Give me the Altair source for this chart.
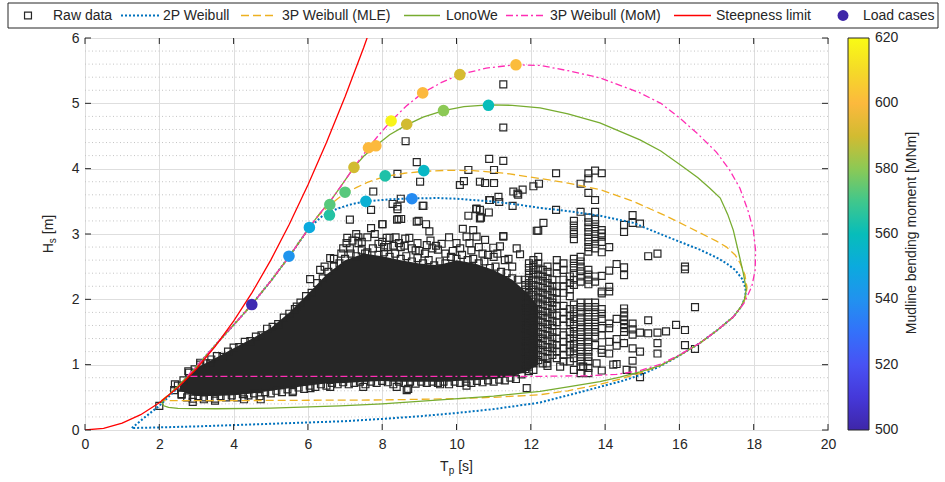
import altair as alt
import pandas as pd

# ---------------- data ----------------
x_ticks = [0, 2, 4, 6, 8, 10, 12, 14, 16, 18, 20]
y_ticks = [0, 1, 2, 3, 4, 5, 6]
y_minor = [round(k * 0.2, 1) for k in range(1, 30) if k % 5]
cbar_ticks = [500, 520, 540, 560, 580, 600, 620]

# dense core of the raw-data cloud
core_tp = [2.55, 2.8, 3.0, 3.5, 4.0, 4.5, 5.0, 5.5, 6.0, 6.5, 7.0, 7.5, 8.0, 8.5, 9.0, 9.5, 10.0, 10.5, 11.0, 11.5, 11.9, 12.2]
core_lo = [0.60, 0.55, 0.52, 0.52, 0.53, 0.56, 0.60, 0.64, 0.68, 0.71, 0.72, 0.74, 0.75, 0.74, 0.74, 0.74, 0.75, 0.76, 0.78, 0.82, 0.90, 1.00]
core_hi = [0.70, 0.86, 0.95, 1.10, 1.25, 1.40, 1.56, 1.80, 2.08, 2.38, 2.60, 2.70, 2.66, 2.60, 2.55, 2.52, 2.60, 2.55, 2.45, 2.30, 2.10, 1.90]

# raw-data squares along the upper and lower rim of the dense core
edge_upper = [(2.50, 0.68), (2.65, 0.76), (2.80, 0.88), (2.95, 0.93), (3.10, 1.00), (3.25, 1.02), (3.40, 1.08),
              (3.55, 1.13), (3.70, 1.12), (3.85, 1.20), (4.00, 1.26), (4.15, 1.27), (4.30, 1.35), (4.45, 1.36),
              (4.60, 1.43), (4.75, 1.45), (4.90, 1.55), (5.05, 1.58), (5.20, 1.62), (5.35, 1.72), (5.50, 1.78),
              (5.65, 1.85), (5.80, 1.95), (5.95, 2.05), (6.10, 2.10), (6.25, 2.25), (6.40, 2.32), (6.55, 2.42),
              (6.70, 2.50), (6.85, 2.55), (7.00, 2.62), (7.15, 2.70), (7.30, 2.66), (7.45, 2.75), (7.60, 2.72),
              (7.75, 2.78), (7.90, 2.68), (8.05, 2.72), (8.20, 2.65), (8.35, 2.70), (8.50, 2.62), (8.65, 2.66),
              (8.80, 2.58), (8.95, 2.63), (9.10, 2.55), (9.25, 2.60), (9.40, 2.52), (9.55, 2.58), (9.70, 2.55),
              (9.85, 2.65), (10.00, 2.62), (10.15, 2.68), (10.30, 2.60), (10.45, 2.62), (10.60, 2.55),
              (10.75, 2.58), (10.90, 2.48), (11.05, 2.50), (11.20, 2.42), (11.35, 2.40), (11.50, 2.32), (11.65, 2.30)]
edge_lower = [(2.60, 0.55), (2.75, 0.50), (2.90, 0.48), (3.05, 0.52), (3.20, 0.47), (3.35, 0.50), (3.50, 0.48),
              (3.65, 0.52), (3.80, 0.50), (3.95, 0.53), (4.10, 0.50), (4.25, 0.55), (4.40, 0.53), (4.55, 0.56),
              (4.70, 0.52), (4.85, 0.58), (5.00, 0.56), (5.15, 0.60), (5.30, 0.58), (5.45, 0.62), (5.60, 0.60),
              (5.75, 0.65), (5.90, 0.63), (6.05, 0.68), (6.20, 0.66), (6.35, 0.70), (6.50, 0.68), (6.65, 0.72),
              (6.80, 0.70), (6.95, 0.73), (7.10, 0.70), (7.25, 0.72), (7.40, 0.74), (7.55, 0.70), (7.70, 0.74),
              (7.85, 0.72), (8.00, 0.75), (8.15, 0.73), (8.30, 0.70), (8.45, 0.74), (8.60, 0.72), (8.75, 0.74),
              (8.90, 0.71), (9.05, 0.74), (9.20, 0.72), (9.35, 0.74), (9.50, 0.72), (9.65, 0.74), (9.80, 0.70),
              (9.95, 0.74), (10.10, 0.72), (10.25, 0.74), (10.40, 0.72), (10.55, 0.75), (10.70, 0.73),
              (10.85, 0.76), (11.00, 0.74), (11.15, 0.77), (11.30, 0.76), (11.45, 0.80), (11.60, 0.78), (11.75, 0.85)]

# individual raw-data squares (outliers around the core)
raw_pts = [
    (2.0, 0.37), (2.42, 0.70), (2.40, 0.61), (2.60, 0.54), (2.78, 0.90), (2.90, 0.43), (3.10, 1.03), (3.37, 1.02),
    (5.70, 1.89), (6.06, 2.31), (6.33, 2.45), (6.60, 2.63), (6.90, 2.70), (7.04, 2.86), (7.06, 2.94), (7.13, 3.22),
    (7.13, 2.78), (7.36, 2.86), (7.36, 2.95), (7.54, 2.70), (7.70, 3.09), (7.70, 3.37), (7.76, 3.65), (8.01, 3.15),
    (8.41, 3.42), (8.44, 3.23), (8.51, 3.23), (9.09, 3.43), (9.02, 3.80), (9.27, 3.04), (8.98, 3.20), (8.41, 3.92),
    (8.12, 2.94), (8.20, 2.94), (8.36, 2.95), (8.62, 2.93), (8.73, 2.94), (8.50, 2.80), (8.95, 2.86), (9.20, 2.83),
    (9.35, 2.78), (7.90, 2.85), (8.05, 2.80), (8.30, 2.82), (8.80, 2.78), (9.00, 2.74), (9.50, 2.76), (9.70, 2.70),
    (9.60, 2.85), (9.90, 2.74), (10.17, 3.08), (10.27, 2.96), (10.45, 3.06), (10.54, 2.96), (10.77, 2.91),
    (10.99, 2.79), (11.26, 2.96), (11.17, 2.81), (11.62, 2.78), (11.71, 2.69), (12.16, 3.05), (10.40, 2.75),
    (10.70, 2.70), (11.00, 2.65), (11.30, 2.60), (11.50, 2.50),
    (7.20, 2.90), (7.30, 3.00), (7.45, 2.88), (7.60, 2.95), (7.80, 3.00), (8.00, 2.88), (8.15, 2.80), (8.45, 2.86),
    (8.60, 2.82), (8.90, 2.75), (9.15, 2.70), (9.30, 2.90), (9.45, 2.82), (9.80, 2.95), (10.00, 2.86),
    (10.10, 2.78), (10.35, 2.86), (10.60, 2.80), (10.85, 2.68), (11.10, 2.70), (11.40, 2.62), (6.95, 2.78),
    (6.70, 2.62), (6.45, 2.50),
    (10.63, 3.37), (10.88, 3.52), (11.15, 3.49), (11.53, 3.65), (11.66, 3.60), (11.78, 3.68), (12.07, 3.73),
    (10.32, 3.28), (10.63, 3.24), (10.53, 3.38), (10.09, 3.75), (10.20, 3.81), (10.63, 3.80), (10.77, 3.78),
    (11.01, 3.78), (10.32, 3.98), (11.01, 3.98), (10.88, 4.15), (11.26, 4.12), (11.26, 5.29), (11.26, 4.63),
    (8.63, 4.42), (8.93, 4.10), (12.22, 3.77), (12.68, 3.93), (13.34, 3.77), (11.13, 3.57), (11.51, 3.43),
    (10.90, 3.52), (8.28, 3.46), (8.50, 3.54), (9.11, 3.43), (10.54, 3.39), (10.66, 3.25), (10.87, 3.33),
    (12.68, 3.37), (8.00, 3.15), (8.40, 3.22), (8.93, 3.19), (9.18, 3.15), (12.34, 3.17), (12.20, 3.05),
    (11.64, 3.62), (8.41, 3.38), (11.26, 2.97),
    (3.20, 0.50), (3.50, 0.45), (4.28, 0.47), (4.73, 0.47), (5.59, 0.58), (6.07, 0.64), (6.60, 0.66), (7.49, 0.66),
    (8.39, 0.66), (8.66, 0.61), (8.70, 0.63), (9.56, 0.70), (10.27, 0.68), (11.89, 0.64),
    (12.43, 1.02), (12.79, 0.97), (13.41, 0.97), (13.77, 1.02), (14.22, 1.00), (14.58, 0.92),
]

# stacks of raw-data squares at discrete Tp values (right part of the cloud)
raw_cols = [
    (11.85, [2.30, 2.22, 2.15, 2.05, 1.95, 1.88, 1.80, 1.70, 1.62, 1.55, 1.45, 1.35, 1.28, 1.20, 1.10, 1.00, 0.93]),
    (11.95, [2.55, 2.48, 2.40, 2.33, 2.25, 2.18, 2.10, 2.03, 1.95, 1.88, 1.80, 1.73, 1.65, 1.58, 1.50, 1.43, 1.35,
             1.28, 1.20, 1.12, 1.05, 0.97, 0.90]),
    (12.07, [2.60, 2.52, 2.45, 2.38, 2.30, 2.22, 2.15, 2.07, 2.00, 1.92, 1.85, 1.77, 1.70, 1.62, 1.55, 1.47, 1.40,
             1.32, 1.25, 1.17, 1.10, 1.02, 0.92]),
    (12.20, [2.65, 2.55, 2.47, 2.38, 2.30, 2.20, 2.12, 2.03, 1.95, 1.85, 1.77, 1.68, 1.60, 1.50, 1.42, 1.33, 1.25,
             1.15, 1.07]),
    (12.32, [2.45, 2.35, 2.28, 2.18, 2.10, 2.00, 1.92, 1.82, 1.75, 1.65, 1.57, 1.47, 1.40, 1.30, 1.22, 1.12, 1.02]),
    (12.45, [2.50, 2.42, 2.32, 2.25, 2.15, 2.07, 1.97, 1.90, 1.80, 1.72, 1.62, 1.55, 1.45, 1.37, 1.27, 1.20, 1.10,
             0.98]),
    (12.58, [2.30, 2.20, 2.12, 2.02, 1.95, 1.85, 1.77, 1.67, 1.60, 1.50, 1.42, 1.32, 1.25, 1.15]),
    (12.70, [2.60, 2.50, 2.40, 2.20, 2.10, 2.00, 1.90, 1.75, 1.65, 1.50, 1.40, 1.30, 1.20, 1.10]),
    (12.88, [2.55, 2.45, 2.30, 2.20, 2.10, 1.90, 1.80, 1.70, 1.60, 1.45, 1.35, 1.25, 1.15, 1.05]),
    (13.05, [2.35, 2.25, 2.15, 2.05, 1.85, 1.75, 1.65, 1.50, 1.40, 1.30, 1.20, 1.05]),
    (13.16, [3.20, 3.13, 3.06, 3.00, 2.92, 2.62, 2.55, 2.48, 2.40, 2.30, 2.22, 1.92, 1.85, 1.78, 1.70, 1.62, 1.55,
             1.47, 1.40, 1.32, 1.25, 1.17, 1.10, 0.92]),
    (13.34, [3.34, 2.65, 2.58, 2.50, 2.43, 2.35, 2.27, 1.95, 1.88, 1.80, 1.72, 1.65, 1.57, 1.50, 1.42, 1.35, 1.27,
             1.20, 1.12, 1.05, 0.97, 0.87]),
    (13.55, [3.93, 3.85, 3.63, 3.25, 3.18, 3.10, 3.03, 2.95, 2.88, 2.80, 2.73, 2.45, 2.38, 2.30, 2.23, 1.95, 1.88,
             1.80, 1.73, 1.65, 1.58, 1.50, 1.43, 1.35, 1.27, 1.20, 1.12, 1.05, 0.95, 0.87]),
    (13.73, [3.97, 3.52, 3.34, 3.22, 3.15, 3.08, 3.00, 2.93, 2.85, 2.78, 2.35, 2.27, 1.95, 1.88, 1.80, 1.73, 1.65,
             1.58, 1.50, 1.43, 1.30]),
    (13.91, [3.93, 3.06, 3.01, 2.96, 2.88, 2.72, 2.36, 2.12, 2.09, 1.85, 1.78, 1.70, 1.56, 1.45, 1.23, 1.18, 0.91]),
    (14.11, [2.80, 2.44, 2.19, 2.12, 1.63, 1.56, 1.35, 1.17]),
    (14.31, [2.54, 1.70, 1.39, 1.29, 1.01]),
    (14.51, [3.14, 3.03, 2.49, 2.37, 1.86, 1.80, 1.74, 1.68, 1.62, 1.56, 1.50, 1.33]),
    (14.74, [3.29, 3.17, 1.63, 1.54, 1.46, 1.25, 1.06, 0.91]),
    (14.94, [3.16, 1.49, 1.20, 0.81]),
    (15.16, [2.66, 1.68, 1.48]),
    (15.41, [2.70, 1.49, 1.33, 1.17]),
    (15.64, [1.51]),
    (15.91, [1.61]),
    (16.15, [2.50, 2.46, 1.53, 1.30]),
    (16.42, [1.88, 1.24]),
]

# environmental contours (Tp, Hs) in drawing order
weibull_2p = [(1.26, 0.03), (1.6, 0.19), (2.0, 0.37), (2.4, 0.59), (2.75, 0.81), (3.2, 1.10), (3.7, 1.42), (4.1, 1.67),
              (4.49, 1.92), (5.0, 2.28), (5.49, 2.65), (6.04, 3.10), (6.4, 3.28), (6.8, 3.39), (7.2, 3.46), (7.56, 3.50),
              (8.2, 3.53), (8.8, 3.545), (9.5, 3.55), (10.0, 3.54), (10.9, 3.50), (11.53, 3.46), (12.25, 3.40),
              (13.0, 3.35), (13.86, 3.28), (14.76, 3.17), (15.66, 2.96), (16.55, 2.76), (17.0, 2.64), (17.27, 2.55),
              (17.5, 2.45), (17.68, 2.32), (17.78, 2.18), (17.78, 2.05), (17.68, 1.90), (17.45, 1.73), (17.0, 1.52),
              (16.55, 1.33), (16.0, 1.14), (15.5, 0.98), (14.94, 0.84), (14.4, 0.74), (13.86, 0.66), (13.0, 0.53),
              (12.25, 0.42), (11.0, 0.32), (10.0, 0.26), (9.0, 0.21), (8.0, 0.17), (7.0, 0.135), (6.0, 0.115),
              (5.0, 0.095), (4.0, 0.075), (3.0, 0.055), (2.0, 0.04), (1.26, 0.03)]
weibull_3p_mle = [(2.06, 0.45), (2.3, 0.56), (2.5, 0.67), (2.75, 0.81), (3.2, 1.10), (3.7, 1.42), (4.1, 1.67),
                  (4.49, 1.92), (5.0, 2.28), (5.49, 2.65), (6.04, 3.10), (6.3, 3.29), (6.6, 3.45), (6.8, 3.54),
                  (7.0, 3.62), (7.3, 3.71), (7.6, 3.79), (8.08, 3.88), (8.6, 3.93), (9.12, 3.96), (9.8, 3.975),
                  (10.45, 3.97), (11.3, 3.93), (12.25, 3.85), (13.0, 3.78), (13.86, 3.68), (14.76, 3.50),
                  (15.66, 3.27), (16.55, 3.02), (17.0, 2.89), (17.27, 2.80), (17.5, 2.68), (17.63, 2.56),
                  (17.76, 2.38), (17.82, 2.18), (17.78, 2.02), (17.68, 1.90), (17.45, 1.73), (17.0, 1.52),
                  (16.55, 1.33), (16.0, 1.14), (15.5, 0.99), (14.94, 0.87), (14.4, 0.78), (13.86, 0.70),
                  (13.0, 0.60), (12.25, 0.54), (11.0, 0.50), (10.0, 0.48), (8.0, 0.46), (6.0, 0.455), (4.0, 0.45),
                  (2.06, 0.45)]
lonowe = [(2.06, 0.43), (2.3, 0.56), (2.5, 0.67), (2.75, 0.81), (3.2, 1.10), (3.7, 1.42), (4.1, 1.67), (4.49, 1.92),
          (5.0, 2.28), (5.49, 2.65), (6.04, 3.10), (6.3, 3.30), (6.6, 3.50), (6.9, 3.74), (7.24, 4.02), (7.5, 4.19),
          (7.83, 4.35), (8.2, 4.52), (8.66, 4.67), (9.1, 4.79), (9.65, 4.89), (10.2, 4.95), (10.86, 4.975),
          (11.5, 4.97), (12.25, 4.93), (13.0, 4.84), (13.86, 4.70), (14.94, 4.44), (15.5, 4.27), (16.02, 4.06),
          (16.5, 3.86), (16.82, 3.70), (17.1, 3.55), (17.3, 3.30), (17.45, 3.06), (17.6, 2.70), (17.72, 2.40),
          (17.8, 2.15), (17.75, 2.00), (17.65, 1.88), (17.45, 1.73), (17.0, 1.52), (16.55, 1.33), (16.0, 1.14),
          (15.5, 0.99), (14.94, 0.89), (14.4, 0.81), (13.86, 0.74), (13.0, 0.66), (12.25, 0.59), (11.0, 0.52),
          (9.56, 0.46), (8.0, 0.40), (6.86, 0.37), (5.0, 0.335), (3.5, 0.325), (2.5, 0.33), (2.25, 0.345),
          (2.12, 0.37), (2.06, 0.43)]
weibull_3p_mom = [(2.75, 0.82), (3.2, 1.10), (3.7, 1.42), (4.1, 1.67), (4.49, 1.92), (5.0, 2.28), (5.49, 2.65),
                  (6.04, 3.10), (6.3, 3.30), (6.6, 3.50), (6.9, 3.74), (7.24, 4.02), (7.63, 4.32), (7.9, 4.51),
                  (8.24, 4.73), (8.65, 4.96), (9.09, 5.16), (9.6, 5.32), (10.09, 5.44), (10.8, 5.54), (11.6, 5.59),
                  (12.25, 5.58), (13.0, 5.50), (13.86, 5.39), (14.94, 5.16), (15.5, 5.00), (16.02, 4.77),
                  (16.5, 4.53), (17.0, 4.25), (17.35, 3.98), (17.63, 3.70), (17.85, 3.35), (17.99, 3.06),
                  (18.05, 2.75), (18.04, 2.45), (17.95, 2.20), (17.75, 1.95), (17.45, 1.73), (17.0, 1.52),
                  (16.55, 1.33), (16.0, 1.15), (15.5, 1.01), (14.94, 0.91), (14.3, 0.85), (13.5, 0.83),
                  (12.0, 0.82), (8.0, 0.82), (4.0, 0.82), (2.75, 0.82)]
steepness = [(0.0, 0.0), (0.5, 0.026), (1.0, 0.104), (1.5, 0.234), (2.0, 0.416), (2.5, 0.65), (3.0, 0.937),
             (3.5, 1.275), (4.0, 1.665), (4.5, 2.107), (5.0, 2.60), (5.5, 3.15), (6.0, 3.75), (6.5, 4.40),
             (7.0, 5.10), (7.5, 5.85), (8.0, 6.66)]

# load cases: Tp, Hs, mudline bending moment [MNm]
load_tp = [4.49, 5.49, 6.04, 6.58, 6.59, 7.00, 7.24, 7.63, 7.83, 8.24, 8.66, 9.09, 9.65, 10.09, 10.86, 11.60, 7.56, 8.08, 9.12, 8.80]
load_hs = [1.92, 2.66, 3.10, 3.29, 3.45, 3.64, 4.02, 4.32, 4.35, 4.73, 4.68, 5.16, 4.89, 5.44, 4.97, 5.59, 3.50, 3.89, 3.97, 3.54]
load_m = [502, 541, 550, 565, 573, 573, 590, 600, 600, 618, 590, 600, 580, 591, 560, 601, 553, 564, 557, 538]

legend_labels = ["Raw data", "2P Weibull", "3P Weibull (MLE)", "LonoWe", "3P Weibull (MoM)", "Steepness limit", "Load cases"]

# parula-like colormap
cmap_domain = [500, 510, 520, 530, 540, 550, 560, 570, 580, 590, 600, 610, 620]
cmap_range = ["#3E26A8", "#4538D9", "#4852F4", "#3371FA", "#2192EF", "#0BAADE", "#07BDBA", "#40C78C",
              "#8CC955", "#D2BB31", "#FCB93D", "#F5DA28", "#F9FB15"]

# ---------------- styling ----------------
FONT = "Liberation Sans"
TXT = "#262626"
W, H = 743, 392
CB_X0, CB_W = 763, 21  # colorbar placement (pixels from plot origin)

xs = alt.Scale(domain=[0, 20], nice=False, zero=False)
ys = alt.Scale(domain=[0, 6], nice=False, zero=False)
X_AX = alt.Axis(values=x_ticks, grid=True, gridColor="#dedede", ticks=False, tickSize=0, domain=False,
                labelPadding=7, labelFontSize=14, labelFont=FONT, labelColor=TXT, labelFlush=False, title=None)
Y_AX = alt.Axis(values=y_ticks, grid=True, gridColor="#dedede", ticks=False, tickSize=0, domain=False,
                labelPadding=6, labelFontSize=14, labelFont=FONT, labelColor=TXT, labelFlush=False, title=None)


def X(f):
    return alt.X(f, type="quantitative", scale=xs, axis=X_AX)


def Y(f):
    return alt.Y(f, type="quantitative", scale=ys, axis=Y_AX)


def path_df(pts):
    return pd.DataFrame({"tp": [p[0] for p in pts], "hs": [p[1] for p in pts], "i": list(range(len(pts)))})


one = pd.DataFrame({"k": [0]})
layers = []

# minor grid
layers.append(alt.Chart(pd.DataFrame({"v": y_minor})).mark_rule(color="#c4c4c4", strokeDash=[1, 2.5], strokeWidth=1)
              .encode(y=Y("v"), x=alt.value(0), x2=alt.value(W)))

# dense core
core_df = pd.DataFrame({"tp": core_tp, "lo": core_lo, "hi": core_hi})
layers.append(alt.Chart(core_df).mark_area(color="#262626", opacity=1)
              .encode(x=X("tp"), y=Y("lo"), y2="hi"))

# raw squares
all_pts = list(edge_upper) + list(edge_lower) + list(raw_pts)
rtp = [p[0] for p in all_pts]
rhs = [p[1] for p in all_pts]
for tp, hs_list in raw_cols:
    for h in hs_list:
        rtp.append(tp)
        rhs.append(h)
raw_df = pd.DataFrame({"tp": rtp, "hs": rhs})
layers.append(alt.Chart(raw_df).mark_point(shape="square", filled=False, size=48, color="#262626",
                                           strokeWidth=1.2, opacity=1)
              .encode(x=X("tp"), y=Y("hs")))

# contours
series = [
    (weibull_2p, "#0072BD", [2, 2], 2.0),
    (weibull_3p_mle, "#EDB120", [8, 4], 1.3),
    (lonowe, "#77AC30", None, 1.3),
    (weibull_3p_mom, "#FF2DB4", [7, 3, 2, 3], 1.3),
    (steepness, "#FF0000", None, 1.3),
]
for pts, col, dash, wid in series:
    kw = dict(color=col, strokeWidth=wid, clip=True)
    if dash:
        kw["strokeDash"] = dash
    layers.append(alt.Chart(path_df(pts)).mark_line(**kw)
                  .encode(x=X("tp"), y=Y("hs"), order=alt.Order("i:Q")))

# load cases (colour legend drawn as a gradient bar; its labels are added below)
load_df = pd.DataFrame({"tp": load_tp, "hs": load_hs, "m": load_m})
layers.append(alt.Chart(load_df).mark_circle(size=135, opacity=1)
              .encode(x=X("tp"), y=Y("hs"),
                      color=alt.Color("m:Q",
                                      scale=alt.Scale(domain=cmap_domain, range=cmap_range, interpolate="rgb"),
                                      legend=alt.Legend(orient="none", legendX=CB_X0, legendY=0, direction="vertical",
                                                        type="gradient", gradientLength=H, gradientThickness=CB_W,
                                                        title=None, values=cbar_ticks, labelOpacity=0,
                                                        labelExpr="''", labelFontSize=1,
                                                        gradientStrokeColor=TXT, gradientStrokeWidth=1, padding=0))))

# colour-bar tick labels and small inner ticks
for v in cbar_ticks:
    py = H * (cbar_ticks[-1] - v) / (cbar_ticks[-1] - cbar_ticks[0])
    layers.append(alt.Chart(one).mark_text(text=str(v), font=FONT, fontSize=14, color=TXT, align="left",
                                           baseline="middle")
                  .encode(x=alt.value(CB_X0 + CB_W + 6), y=alt.value(py)))
    if cbar_ticks[0] < v < cbar_ticks[-1]:
        layers.append(alt.Chart(one).mark_rule(color=TXT, strokeWidth=1)
                      .encode(x=alt.value(CB_X0 + CB_W - 4), x2=alt.value(CB_X0 + CB_W), y=alt.value(py)))

# inward ticks
xt = pd.DataFrame({"v": x_ticks})
yt = pd.DataFrame({"v": y_ticks})
layers.append(alt.Chart(xt).mark_rule(color=TXT).encode(x=X("v"), y=alt.value(H), y2=alt.value(H - 6)))
layers.append(alt.Chart(xt).mark_rule(color=TXT).encode(x=X("v"), y=alt.value(0), y2=alt.value(6)))
layers.append(alt.Chart(yt).mark_rule(color=TXT).encode(y=Y("v"), x=alt.value(0), x2=alt.value(6)))
layers.append(alt.Chart(yt).mark_rule(color=TXT).encode(y=Y("v"), x=alt.value(W), x2=alt.value(W - 6)))


# axis titles with subscripts
def txt(s, x, y, size=14, angle=None, align="left"):
    kw = dict(text=s, font=FONT, fontSize=size, color=TXT, align=align, baseline="middle")
    if angle is not None:
        kw["angle"] = angle
    return alt.Chart(one).mark_text(**kw).encode(x=alt.value(x), y=alt.value(y))


layers += [
    txt("T", 355.1, 429), txt("p", 363.7, 433, size=10), txt("[s]", 373.2, 429),
    txt("H", -36, 215.25, angle=270), txt("s", -32, 205.15, size=10, angle=270), txt("[m]", -36, 196.25, angle=270),
    txt("Mudline bending moment [MNm]", 827, 195, angle=270, align="center"),
]

# top legend
LY = -22.5
layers.append(alt.Chart(one).mark_rect(fill="white", stroke=TXT, strokeWidth=1)
              .encode(x=alt.value(-77), x2=alt.value(853), y=alt.value(-35), y2=alt.value(-10)))
layers.append(alt.Chart(one).mark_point(shape="square", filled=False, size=48, color="#262626", strokeWidth=1.2, opacity=1)
              .encode(x=alt.value(-57), y=alt.value(LY)))
leg_lines = [(36, 75, "#0072BD", [2, 2], 2.0), (156, 192, "#EDB120", [8, 4], 1.3), (319, 355, "#77AC30", None, 1.3),
             (421, 461, "#FF2DB4", [7, 3, 2, 3], 1.3), (589, 626, "#FF0000", None, 1.3)]
for x1, x2, col, dash, wid in leg_lines:
    kw = dict(color=col, strokeWidth=wid)
    if dash:
        kw["strokeDash"] = dash
    layers.append(alt.Chart(one).mark_rule(**kw).encode(x=alt.value(x1), x2=alt.value(x2), y=alt.value(LY)))
layers.append(alt.Chart(one).mark_circle(size=120, color="#3E26A8", opacity=1)
              .encode(x=alt.value(758), y=alt.value(LY)))
for lab, lx in zip(legend_labels, [-32, 78, 197, 361, 465, 631, 778]):
    layers.append(txt(lab, lx, LY))

chart = alt.layer(*layers).properties(
    width=W, height=H,
    autosize=alt.AutoSizeParams(type="none"),
    padding={"left": 85, "top": 38, "right": 117, "bottom": 52},
).configure_view(stroke=TXT, strokeWidth=1)

chart.save("out.html", embed_options={"renderer": "svg", "actions": False})
